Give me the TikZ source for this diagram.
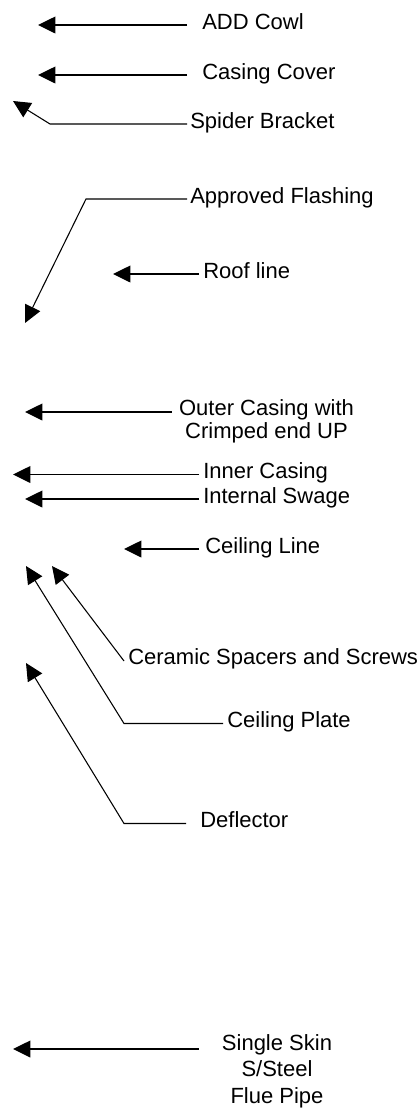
\documentclass[tikz,border=0pt]{standalone}
\usepackage{fontspec}
\setmainfont{Liberation Sans}
\usetikzlibrary{arrows.meta}

\begin{document}
\begin{tikzpicture}[x=0.75pt,y=0.75pt,yscale=-1,xscale=1,
  lbl/.style={inner sep=0pt, font=\fontsize{16.5}{19.8}\selectfont},
  pointer/.style={line width=1.1pt, -{Triangle[length=13pt,width=12.5pt]}},
  leader/.style={line width=0.8pt, -{Triangle[length=13pt,width=12.5pt]}}]
\useasboundingbox (0,0) rectangle (419,1108);

% Text Node
\node[lbl, anchor=base west] (cowl) at (202,29) {ADD Cowl};
% Text Node
\node[lbl, anchor=base west] (cover) at (202,79) {Casing Cover};
% Text Node
\node[lbl, anchor=base west] (spider) at (190,128) {Spider Bracket};
% Text Node
\node[lbl, anchor=base west] (flashing) at (190,203) {Approved Flashing};
% Text Node
\node[lbl, anchor=base west] (roof) at (203,278) {Roof line};
% Text Node
\node[lbl, anchor=base, align=center, font=\fontsize{16.5}{16.9}\selectfont] (outer) at (266.5,438) {Outer Casing with\\Crimped end UP};
% Text Node
\node[lbl, anchor=base west] (inner) at (203,478.5) {Inner Casing};
% Text Node
\node[lbl, anchor=base west] (swage) at (203,503) {Internal Swage};
% Text Node
\node[lbl, anchor=base west] (ceilline) at (205,553) {Ceiling Line};
% Text Node
\node[lbl, anchor=base west] (spacers) at (128,664) {Ceramic Spacers and Screws};
% Text Node
\node[lbl, anchor=base west] (plate) at (227,727.5) {Ceiling Plate};
% Text Node
\node[lbl, anchor=base west] (deflector) at (200,827.5) {Deflector};
% Text Node
\node[lbl, anchor=base, align=center, font=\fontsize{16.5}{19.6}\selectfont] (skin) at (277,1103) {Single Skin\\S/Steel\\Flue Pipe};

% Arrow tips and bends
\coordinate (cowl-tip) at (38,25);
\coordinate (cover-tip) at (38,75);
\coordinate (spider-bend) at (50,124);
\coordinate (spider-tip) at (13,101);
\coordinate (flashing-bend) at (86,199);
\coordinate (flashing-tip) at (25,323);
\coordinate (roof-tip) at (113,274);
\coordinate (outer-tip) at (25,412);
\coordinate (inner-tip) at (13,474.5);
\coordinate (swage-tip) at (25,499);
\coordinate (ceilline-tip) at (124,549);
\coordinate (spacers-tip) at (52,566);
\coordinate (plate-bend) at (124,723.5);
\coordinate (plate-tip) at (26,566);
\coordinate (deflector-bend) at (124,823.5);
\coordinate (deflector-tip) at (26,663);
\coordinate (skin-tip) at (13,1049);

%Straight Lines
\draw[pointer] ([shift={(-15,-4)}]cowl.base west) -- (cowl-tip);
\draw[pointer] ([shift={(-15,-4)}]cover.base west) -- (cover-tip);
\draw[leader] ([shift={(-3,-4)}]spider.base west) -- (spider-bend) -- (spider-tip);
\draw[leader] ([shift={(-3,-4)}]flashing.base west) -- (flashing-bend) -- (flashing-tip);
\draw[pointer] ([shift={(-4,-4)}]roof.base west) -- (roof-tip);
\draw[pointer] ([shift={(-7,-26)}]outer.base west) -- (outer-tip);
\draw[pointer] ([shift={(-4,-4)}]inner.base west) -- (inner-tip);
\draw[pointer] ([shift={(-4,-4)}]swage.base west) -- (swage-tip);
\draw[pointer] ([shift={(-6,-4)}]ceilline.base west) -- (ceilline-tip);
\draw[leader] ([shift={(-4,-3)}]spacers.base west) -- (spacers-tip);
\draw[leader] ([shift={(-4,-4)}]plate.base west) -- (plate-bend) -- (plate-tip);
\draw[leader] ([shift={(-14,-4)}]deflector.base west) -- (deflector-bend) -- (deflector-tip);
\draw[pointer] ([shift={(-23,-54)}]skin.base west) -- (skin-tip);

\end{tikzpicture}
\end{document}
